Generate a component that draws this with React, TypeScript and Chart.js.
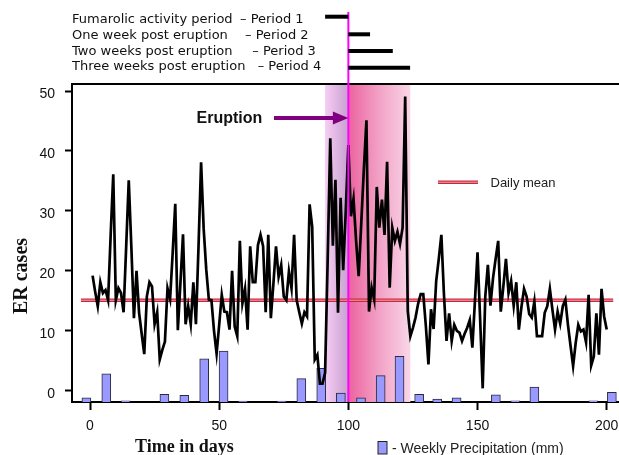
import { useEffect, useRef } from "react";
import { Chart, registerables } from "chart.js";
import type { Plugin } from "chart.js";

Chart.register(...registerables);

const SANS = "'Liberation Sans', Arial, sans-serif";
const SERIF = "'Liberation Serif', 'Times New Roman', serif";
const VERDANA = "'DejaVu Sans', Verdana, sans-serif";

// daily ER cases, day 1 .. day 200
const dailyCases = [
  19.2, 16.5, 14.1, 18.1, 16.3, 16.8, 15.1, 26, 36.1, 15.1,
  17.1, 16.3, 13.1, 24, 35.1, 24, 12.1, 20, 13, 9.5,
  6.1, 15.7, 18.1, 17.4, 11.1, 13.1, 5.2, 6.8, 8.2, 17.1,
  15.3, 23, 31.2, 10.1, 18, 26.1, 11.1, 14.1, 11.1, 18.1,
  11.1, 24, 38.1, 27, 20.2, 15.2, 15.1, 10, 6.2, 11,
  16, 13.2, 13.1, 10.2, 20, 10.7, 9.1, 25, 14.6, 17,
  10.2, 24.1, 18.1, 18.1, 24.3, 26, 24.1, 13.1, 26, 12.1,
  17.9, 24.1, 19, 21, 15.7, 15.1, 19.9, 17.1, 26, 15.1,
  13.1, 11.2, 13.1, 12.4, 31.1, 27.4, 5.2, 6, 1.2, 1.2,
  3, 22, 42.1, 24.2, 35.2, 13, 32.2, 20.1, 30, 41,
  29.1, 32, 25, 19.1, 28, 37, 45.1, 13.2, 17.2, 15.2,
  34, 27.2, 31.9, 26, 38.2, 17.2, 27.2, 25, 26.5, 24.5,
  27.2, 49.1, 13.3, 9.1, 10.5, 12.2, 14.5, 16.1, 16.1, 10.8,
  4.4, 13.6, 10.3, 18.3, 22, 26, 16.1, 8.3, 12.9, 8.3,
  11, 10, 9.7, 8.3, 9.5, 10.5, 11.8, 7.2, 15, 23.1,
  12, 0.4, 15.7, 21, 14.2, 18.8, 22, 25, 13.2, 17.4,
  22, 16.3, 18.3, 14.2, 18.1, 10.2, 14, 17, 15.7, 12.8,
  12.2, 14.9, 9.1, 9.1, 9.1, 13, 14.1, 17, 13.5, 10.2,
  13.2, 11.2, 14.1, 15.2, 11, 7.5, 4.1, 8, 11, 9.9,
  10.2, 8.1, 16, 4.2, 5.7, 12.9, 6, 17, 12.4, 10.2,
];

// weekly precipitation
const precipDays = [
  -1.4, 6.3, 13.8, 28.8, 36.5, 44.2, 51.7, 59.2, 74.2, 81.8, 89.5, 97.1,
  104.9, 112.5, 119.8, 127.4, 134.4, 141.9, 157.1, 164.6, 172, 194.8, 202,
];
const precipMm = [
  0.7, 4.7, 0.2, 1.3, 1.1, 7.2, 8.5, 0.15, 0.15, 3.9, 5.6, 1.5,
  0.7, 4.4, 7.6, 1.3, 0.5, 0.7, 1.2, 0.2, 2.5, 0.2, 1.6,
];

const X_TICKS = [0, 50, 100, 150, 200];
const Y_TICKS = [0, 10, 20, 30, 40, 50];

const DAILY_MEAN = 15.1;
const MEAN_FROM = -3.5;
const MEAN_TO = 202.5;

const ERUPTION_DAY = 100;
const SHADE_START = 91;
const SHADE_END = 124;

const periodNames = [
  "Fumarolic activity period",
  "One week post eruption",
  "Two weeks post eruption",
  "Three weeks post eruption",
];
const periodTags = ["– Period 1", "– Period 2", "– Period 3", "– Period 4"];
const periodStart = [91, 100, 100, 100];
const periodEnd = [100, 108.4, 117.2, 123.9];

const overlay: Plugin<"line"> = {
  id: "overlay",
  beforeDatasetsDraw(chart) {
    const { ctx, chartArea } = chart;
    const xs = chart.scales.x;
    const x0 = xs.getPixelForValue(SHADE_START);
    const xe = xs.getPixelForValue(ERUPTION_DAY);
    const x1 = xs.getPixelForValue(SHADE_END);
    const h = chartArea.bottom - chartArea.top;
    ctx.save();
    const g1 = ctx.createLinearGradient(x0, 0, xe, 0);
    g1.addColorStop(0, "#f6cdf4");
    g1.addColorStop(1, "#c6a0cf");
    ctx.fillStyle = g1;
    ctx.fillRect(x0, chartArea.top, xe - x0, h);
    const g2 = ctx.createLinearGradient(xe, 0, x1, 0);
    g2.addColorStop(0, "#ec639f");
    g2.addColorStop(0.5, "#f2a2c6");
    g2.addColorStop(1, "#f9d6e8");
    ctx.fillStyle = g2;
    ctx.fillRect(xe, chartArea.top, x1 - xe, h);
    ctx.restore();
  },
  afterDatasetsDraw(chart) {
    const { ctx, chartArea } = chart;
    const xs = chart.scales.x;
    const xe = xs.getPixelForValue(ERUPTION_DAY);
    ctx.save();

    // top frame line
    ctx.strokeStyle = "#000";
    ctx.lineWidth = 2;
    ctx.beginPath();
    ctx.moveTo(chartArea.left - 1, chartArea.top);
    ctx.lineTo(chartArea.right, chartArea.top);
    ctx.stroke();

    // eruption marker
    ctx.strokeStyle = "#ff00ff";
    ctx.lineWidth = 2;
    ctx.beginPath();
    ctx.moveTo(xe, 12);
    ctx.lineTo(xe, chartArea.bottom);
    ctx.stroke();

    // periods
    const textBase = [22.7, 39.3, 54.8, 70.3];
    const tagX = [240, 245, 252.3, 257.7];
    const barY = [16.7, 34.3, 51, 67.7];
    ctx.font = `13px ${VERDANA}`;
    ctx.fillStyle = "#111";
    ctx.textBaseline = "alphabetic";
    ctx.textAlign = "left";
    periodNames.forEach((name, i) => {
      ctx.fillText(name, 72, textBase[i]);
      ctx.fillText(periodTags[i], tagX[i], textBase[i]);
      ctx.strokeStyle = "#000";
      ctx.lineWidth = 4;
      ctx.beginPath();
      ctx.moveTo(xs.getPixelForValue(periodStart[i]), barY[i]);
      ctx.lineTo(xs.getPixelForValue(periodEnd[i]), barY[i]);
      ctx.stroke();
    });

    // Eruption arrow
    ctx.fillStyle = "#111";
    ctx.font = `bold 16px ${SANS}`;
    ctx.fillText("Eruption", 196.5, 122.5);
    ctx.strokeStyle = "#800080";
    ctx.fillStyle = "#800080";
    ctx.lineWidth = 4;
    ctx.beginPath();
    ctx.moveTo(274, 118);
    ctx.lineTo(xe - 14, 118);
    ctx.stroke();
    ctx.beginPath();
    ctx.moveTo(xe - 15.5, 111.5);
    ctx.lineTo(xe, 118);
    ctx.lineTo(xe - 15.5, 124.5);
    ctx.closePath();
    ctx.fill();

    // daily mean legend
    ctx.strokeStyle = "#c8283c";
    ctx.lineWidth = 3.6;
    ctx.beginPath();
    ctx.moveTo(438, 182.2);
    ctx.lineTo(478, 182.2);
    ctx.stroke();
    ctx.strokeStyle = "#f3a9b3";
    ctx.lineWidth = 1;
    ctx.beginPath();
    ctx.moveTo(438, 182.2);
    ctx.lineTo(478, 182.2);
    ctx.stroke();
    ctx.fillStyle = "#222";
    ctx.font = `13px ${SANS}`;
    ctx.fillText("Daily mean", 490.5, 187);

    // axis titles
    ctx.fillStyle = "#111";
    ctx.font = `bold 18px ${SERIF}`;
    ctx.fillText("Time in days", 135, 452);
    ctx.save();
    ctx.translate(27, 276);
    ctx.rotate(-Math.PI / 2);
    ctx.font = `bold 20px ${SERIF}`;
    ctx.textAlign = "center";
    ctx.fillText("ER cases", 0, 0);
    ctx.restore();

    // precipitation legend
    ctx.fillStyle = "#9999ff";
    ctx.fillRect(378, 441.5, 9, 12.5);
    ctx.strokeStyle = "#222";
    ctx.lineWidth = 1;
    ctx.strokeRect(378, 441.5, 9, 12.5);
    ctx.fillStyle = "#222";
    ctx.font = `14px ${SANS}`;
    ctx.fillText("- Weekly Precipitation (mm)", 392, 452.5);

    ctx.restore();
  },
};

export default function App() {
  const canvasRef = useRef<HTMLCanvasElement | null>(null);
  const chartRef = useRef<Chart | null>(null);

  useEffect(() => {
    document.body.style.margin = "0";
    if (!canvasRef.current) return;
    chartRef.current?.destroy();

    chartRef.current = new Chart(canvasRef.current, {
      type: "line",
      data: {
        datasets: [
          {
            type: "line",
            data: dailyCases.map((v, i) => ({ x: i + 1, y: v })),
            borderColor: "#000",
            borderWidth: 2.7,
            pointRadius: 0,
            tension: 0,
            yAxisID: "y",
            order: 0,
          },
          {
            type: "line",
            data: [
              { x: MEAN_FROM, y: DAILY_MEAN },
              { x: MEAN_TO, y: DAILY_MEAN },
            ],
            borderColor: "#c8283c",
            borderWidth: 3.6,
            pointRadius: 0,
            yAxisID: "y",
            order: 2,
          },
          {
            type: "line",
            data: [
              { x: MEAN_FROM, y: DAILY_MEAN },
              { x: MEAN_TO, y: DAILY_MEAN },
            ],
            borderColor: "#f3a9b3",
            borderWidth: 1,
            pointRadius: 0,
            yAxisID: "y",
            order: 1,
          },
          {
            type: "bar",
            data: precipDays.map((d, i) => ({ x: d, y: precipMm[i] })),
            backgroundColor: "#9999ff",
            borderColor: "#2a2a3a",
            borderWidth: 1,
            barThickness: 9,
            yAxisID: "yP",
            order: 3,
          } as any,
        ],
      },
      options: {
        animation: false,
        responsive: true,
        maintainAspectRatio: false,
        events: [],
        layout: { padding: { top: 84, left: 0, right: 0, bottom: 0 } },
        plugins: {
          legend: { display: false },
          tooltip: { enabled: false },
        },
        scales: {
          x: {
            type: "linear",
            min: -6.97,
            max: 204.76,
            offset: false,
            afterBuildTicks: (s: any) => {
              s.ticks = X_TICKS.map((v) => ({ value: v }));
            },
            afterFit: (s: any) => {
              s.height = 53;
              s.paddingLeft = 0;
              s.paddingRight = 0;
            },
            grid: {
              offset: false,
              drawOnChartArea: false,
              drawTicks: true,
              tickLength: 8,
              tickWidth: 2,
              tickColor: "#000",
            },
            border: { display: true, color: "#000", width: 2 },
            ticks: {
              font: { family: SANS, size: 14 },
              color: "#111",
              padding: 8,
              maxRotation: 0,
              autoSkip: false,
            },
          },
          y: {
            type: "linear",
            min: -1.88,
            max: 51.17,
            afterBuildTicks: (s: any) => {
              s.ticks = Y_TICKS.map((v) => ({ value: v }));
            },
            afterFit: (s: any) => {
              s.width = 72;
              s.paddingTop = 0;
              s.paddingBottom = 0;
            },
            grid: {
              drawOnChartArea: false,
              drawTicks: true,
              tickLength: 7,
              tickWidth: 2,
              tickColor: "#000",
            },
            border: { display: true, color: "#000", width: 2 },
            ticks: {
              font: { family: SANS, size: 14 },
              color: "#111",
              padding: 10,
              labelOffset: 3,
            },
          },
          yP: {
            type: "linear",
            display: false,
            min: 0,
            max: 53.05,
          },
        },
      },
      plugins: [overlay],
    });

    return () => chartRef.current?.destroy();
  }, []);

  return (
    <div style={{ position: "relative", width: 619, height: 455, background: "#fff" }}>
      <canvas ref={canvasRef} />
    </div>
  );
}
